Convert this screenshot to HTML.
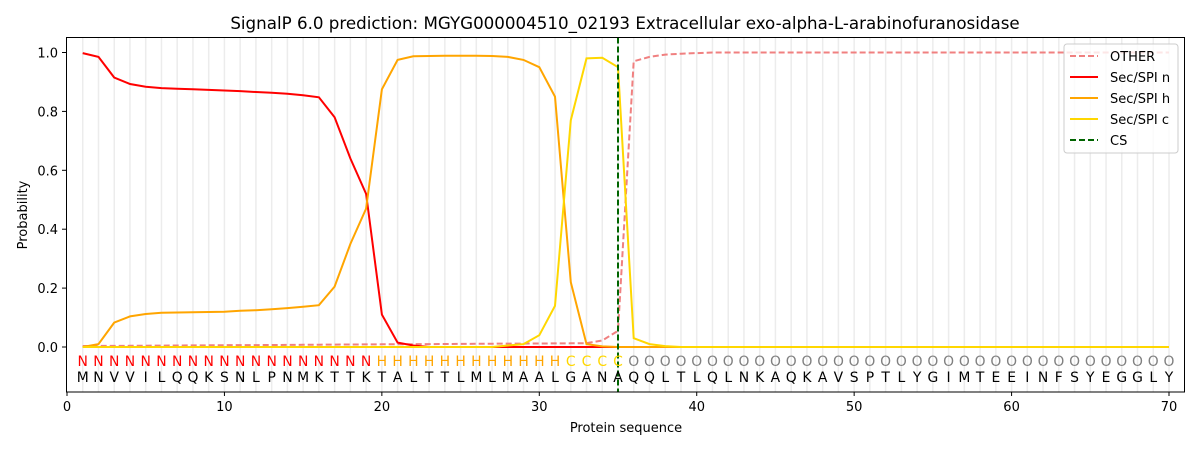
<!DOCTYPE html>
<html><head><meta charset="utf-8"><style>body{margin:0;background:#fff}svg{display:block;font-family:"DejaVu Sans","Liberation Sans",sans-serif}</style></head>
<body><svg id="s" width="1200" height="450" xmlns="http://www.w3.org/2000/svg"></svg>
<script>
const s=document.getElementById('s');
const X=v=>67+v*15.743, Y=v=>347-v*294.5;
let h='';
h+='<text x="625" y="29" font-size="16.7" text-anchor="middle">SignalP 6.0 prediction: MGYG000004510_02193 Extracellular exo-alpha-L-arabinofuranosidase</text>';
for(let i=1;i<=70;i++)h+=`<line x1="${X(i)}" x2="${X(i)}" y1="37.5" y2="392" stroke="#ececec" stroke-width="1.5"/>`;
const n=[0.998,0.985,0.915,0.893,0.884,0.879,0.877,0.875,0.873,0.871,0.869,0.866,0.863,0.86,0.855,0.848,0.78,0.64,0.52,0.11,0.015,0.005];
const hh=[0,0.01,0.083,0.104,0.112,0.116,0.117,0.118,0.119,0.12,0.123,0.125,0.128,0.132,0.137,0.142,0.205,0.35,0.47,0.875,0.975,0.987,0.988,0.989,0.989,0.989,0.988,0.985,0.975,0.95,0.85,0.22,0.01,0.002];
const c=[];for(let i=1;i<=70;i++)c.push(0);
Object.assign(c,{27:0.005,28:0.01,29:0.04,30:0.14,31:0.77,32:0.98,33:0.982,34:0.95,35:0.03,36:0.01,37:0.003});
const o=[];for(let i=1;i<=70;i++)o.push(i<=33?0.003+i*0.0003:1);
Object.assign(o,{32:0.013,33:0.022,34:0.055,35:0.97,36:0.985,37:0.993,38:0.996,39:0.998});
function line(a,col,dash){let p=[];for(let i=0;i<70;i++)p.push(X(i+1).toFixed(1)+','+Y(a[i]||0).toFixed(1));return `<polyline points="${p.join(' ')}" fill="none" stroke="${col}" stroke-width="2" ${dash?'stroke-dasharray="6,3"':''}/>`}
h+=line(o,'#f08080',1)+line(n,'#ff0000')+line(hh,'#ffa500')+line(c,'#ffd700');
h+=`<line x1="${X(35)}" x2="${X(35)}" y1="37.5" y2="392" stroke="#006400" stroke-width="2" stroke-dasharray="6,3"/>`;
const seq="MNVVILQQKSNLPNMKTTKTALTTLMLMAALGANAQQLTLQLNKAQKAVSPTLYGIMTEEINFSYEGGLY";
for(let i=1;i<=70;i++){let L,col;if(i<=19){L='N';col='#ff0000'}else if(i<=31){L='H';col='#ffa500'}else if(i<=35){L='C';col='#ffd700'}else{L='O';col='#808080'}
h+=`<text x="${X(i)}" y="366" font-size="13.9" text-anchor="middle" fill="${col}">${L}</text><text x="${X(i)}" y="382" font-size="13.9" text-anchor="middle">${seq[i-1]}</text>`;}
h+='<rect x="66.5" y="37.5" width="1118" height="354.5" fill="none" stroke="#000" stroke-width="1"/>';
for(let t=0;t<=70;t+=10)h+=`<line x1="${X(t)}" x2="${X(t)}" y1="392" y2="396" stroke="#000"/><text x="${X(t)}" y="411" font-size="13" text-anchor="middle">${t}</text>`;
for(let t=0;t<=5;t++){let v=t*0.2;h+=`<line x1="62" x2="66.5" y1="${Y(v)}" y2="${Y(v)}" stroke="#000"/><text x="58" y="${Y(v)+5}" font-size="13" text-anchor="end">${v.toFixed(1)}</text>`;}
h+='<text x="626" y="432" font-size="13" text-anchor="middle">Protein sequence</text>';
h+='<text transform="translate(27,215) rotate(-90)" font-size="13" text-anchor="middle">Probability</text>';
h+='<rect x="1064" y="44" width="114" height="109" rx="3" fill="#fff" fill-opacity="0.8" stroke="#ccc"/>';
const lg=[['OTHER','#f08080',1],['Sec/SPI n','#ff0000'],['Sec/SPI h','#ffa500'],['Sec/SPI c','#ffd700'],['CS','#006400',1]];
lg.forEach((e,k)=>{let y=56+k*21;h+=`<line x1="1070" x2="1098" y1="${y}" y2="${y}" stroke="${e[1]}" stroke-width="2" ${e[2]?'stroke-dasharray="6,3"':''}/><text x="1110" y="${y+5}" font-size="13">${e[0]}</text>`});
s.innerHTML=h;
</script></body></html>
